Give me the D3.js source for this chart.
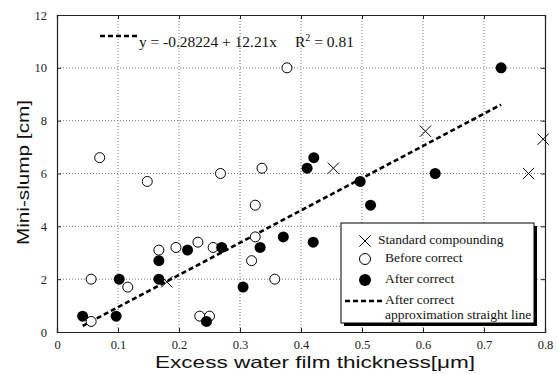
<!DOCTYPE html>
<html>
<head>
<meta charset="utf-8">
<script src="https://cdn.jsdelivr.net/npm/d3@7"></script>
<style>
  body { margin: 0; background: #fff; }
</style>
</head>
<body>
<div id="chart"></div>
<script>
// Data
var xTicks = [0, 0.1, 0.2, 0.3, 0.4, 0.5, 0.6, 0.7, 0.8];
var yTicks = [0, 2, 4, 6, 8, 10, 12];

var standardX = [0.18, 0.453, 0.604, 0.773, 0.797];
var standardY = [1.9, 6.2, 7.6, 6.0, 7.3];

var beforeX = [0.056, 0.056, 0.07, 0.116, 0.148, 0.167, 0.195, 0.231, 0.234, 0.25, 0.256, 0.268, 0.319, 0.325, 0.325, 0.336, 0.357, 0.377];
var beforeY = [2.0, 0.4, 6.6, 1.7, 5.7, 3.1, 3.2, 3.4, 0.6, 0.6, 3.2, 6.0, 2.7, 4.8, 3.6, 6.2, 2.0, 10.0];

var afterX = [0.042, 0.097, 0.102, 0.167, 0.167, 0.214, 0.245, 0.27, 0.305, 0.333, 0.371, 0.41, 0.421, 0.42, 0.497, 0.514, 0.62, 0.728];
var afterY = [0.6, 0.6, 2.0, 2.0, 2.7, 3.1, 0.4, 3.2, 1.7, 3.2, 3.6, 6.2, 6.6, 3.4, 5.7, 4.8, 6.0, 10.0];

var fitIntercept = -0.28224, fitSlope = 12.21, fitRange = [0.042, 0.728];

var serif = "'Liberation Serif', 'DejaVu Serif', 'Times New Roman', serif";
var sans = "'Liberation Sans', Arial, sans-serif";

var width = 558, height = 374;
var margin = { left: 57, right: 13, top: 15, bottom: 42 };
var chartWidth = width - margin.left - margin.right;
var chartHeight = height - margin.top - margin.bottom;

var svg = d3.select("#chart").append("svg")
    .attr("width", width)
    .attr("height", height);

var xScale = d3.scaleLinear().domain([0, 0.8]).range([0, chartWidth]);
var yScale = d3.scaleLinear().domain([0, 12]).range([chartHeight, 0]);

var chartG = svg.append("g")
    .attr("transform", "translate(" + margin.left + "," + margin.top + ")");

// dotted grid
chartG.append("g").selectAll("line")
    .data(xTicks.slice(1, -1)).enter().append("line")
    .attr("x1", function(d) { return xScale(d); })
    .attr("x2", function(d) { return xScale(d); })
    .attr("y1", 0).attr("y2", chartHeight)
    .attr("stroke", "#777").attr("stroke-width", 1).attr("stroke-dasharray", "1,2");
chartG.append("g").selectAll("line")
    .data(yTicks.slice(1, -1)).enter().append("line")
    .attr("y1", function(d) { return yScale(d); })
    .attr("y2", function(d) { return yScale(d); })
    .attr("x1", 0).attr("x2", chartWidth)
    .attr("stroke", "#777").attr("stroke-width", 1).attr("stroke-dasharray", "1,2");

// axes
var xAxis = d3.axisBottom(xScale).tickValues(xTicks).tickSize(-4).tickPadding(8)
    .tickFormat(function(d) { return d === 0 ? "0" : d3.format(".1f")(d); });
var yAxis = d3.axisLeft(yScale).tickValues(yTicks).tickSize(-4).tickPadding(10)
    .tickFormat(d3.format("d"));

chartG.append("g").attr("class", "axis x")
    .attr("transform", "translate(0," + chartHeight + ")").call(xAxis);
chartG.append("g").attr("class", "axis y").call(yAxis);
chartG.append("g")
    .call(d3.axisTop(xScale).tickValues(xTicks).tickSize(-4).tickFormat(""));
chartG.append("g").attr("transform", "translate(" + chartWidth + ",0)")
    .call(d3.axisRight(yScale).tickValues(yTicks).tickSize(-4).tickFormat(""));
chartG.selectAll(".domain").attr("stroke", "#222").attr("stroke-width", 1.2);
chartG.selectAll(".tick line").attr("stroke", "#222");
chartG.selectAll(".tick text")
    .attr("font-family", null).attr("font-size", null)
    .style("font-family", serif).style("font-size", "12.5px").attr("fill", "#222");

// fit line
chartG.append("line")
    .attr("x1", xScale(fitRange[0])).attr("y1", yScale(fitIntercept + fitSlope * fitRange[0]))
    .attr("x2", xScale(fitRange[1])).attr("y2", yScale(fitIntercept + fitSlope * fitRange[1]))
    .attr("stroke", "#000").attr("stroke-width", 2.6).attr("stroke-dasharray", "5,3");

function zip(xs, ys) { return xs.map(function(x, i) { return [x, ys[i]]; }); }

// open circles
chartG.append("g").selectAll("circle")
    .data(zip(beforeX, beforeY)).enter().append("circle")
    .attr("cx", function(d) { return xScale(d[0]); })
    .attr("cy", function(d) { return yScale(d[1]); })
    .attr("r", 5).attr("fill", "#fff").attr("stroke", "#000").attr("stroke-width", 1);

// filled circles
chartG.append("g").selectAll("circle")
    .data(zip(afterX, afterY)).enter().append("circle")
    .attr("cx", function(d) { return xScale(d[0]); })
    .attr("cy", function(d) { return yScale(d[1]); })
    .attr("r", 5.5).attr("fill", "#000");

// crosses
var cross = d3.symbol().type(d3.symbolX).size(70);
chartG.append("g").selectAll("path")
    .data(zip(standardX, standardY)).enter().append("path")
    .attr("d", cross)
    .attr("transform", function(d) { return "translate(" + xScale(d[0]) + "," + yScale(d[1]) + ") scale(1.1)"; })
    .attr("fill", "none").attr("stroke", "#000").attr("stroke-width", 0.9);

// equation
svg.append("line").attr("x1", 100).attr("x2", 138).attr("y1", 36).attr("y2", 36)
    .attr("stroke", "#000").attr("stroke-width", 2.6).attr("stroke-dasharray", "5,3");
svg.append("text").attr("x", 139).attr("y", 47)
    .attr("textLength", 138).attr("lengthAdjust", "spacingAndGlyphs")
    .style("font-family", serif).style("font-size", "15.5px").attr("fill", "#111")
    .text("y = -0.28224 + 12.21x");
var r2 = svg.append("text").attr("x", 295).attr("y", 47)
    .style("font-family", serif).style("font-size", "15.5px").attr("fill", "#111");
r2.append("tspan").text("R");
r2.append("tspan").attr("dy", -6).style("font-size", "10px").text("2");
r2.append("tspan").attr("dy", 6).text(" = 0.81");

// legend
var lg = svg.append("g").attr("transform", "translate(341,223)");
lg.append("rect").attr("x", 3).attr("y", 3).attr("width", 193).attr("height", 100).attr("fill", "#000");
lg.append("rect").attr("width", 193).attr("height", 100).attr("fill", "#fff").attr("stroke", "#000").attr("stroke-width", 1);
lg.append("path").attr("d", cross).attr("transform", "translate(24,18) scale(1.1)")
    .attr("fill", "none").attr("stroke", "#000").attr("stroke-width", 0.9);
lg.append("circle").attr("cx", 24).attr("cy", 36).attr("r", 5.5).attr("fill", "#fff").attr("stroke", "#000");
lg.append("circle").attr("cx", 24).attr("cy", 57).attr("r", 6).attr("fill", "#000");
lg.append("line").attr("x1", 4).attr("x2", 43).attr("y1", 78).attr("y2", 78)
    .attr("stroke", "#000").attr("stroke-width", 2.6).attr("stroke-dasharray", "5,3");
var legendTexts = [
    { x: 37, y: 21, t: "Standard compounding" },
    { x: 44, y: 39, t: "Before correct" },
    { x: 44, y: 60, t: "After correct" },
    { x: 44, y: 81, t: "After correct" },
    { x: 44, y: 96, t: "approximation straight line" }
];
lg.selectAll("text").data(legendTexts).enter().append("text")
    .attr("x", function(d) { return d.x; }).attr("y", function(d) { return d.y; })
    .style("font-family", serif).style("font-size", "13.5px").attr("fill", "#111")
    .text(function(d) { return d.t; });

// axis titles (horizontally stretched, as in the original)
svg.append("text").attr("x", 155).attr("y", 368)
    .attr("textLength", 320).attr("lengthAdjust", "spacingAndGlyphs")
    .style("font-family", sans).style("font-size", "16.5px").attr("fill", "#111")
    .text("Excess water film thickness[\u03bcm]");
svg.append("text").attr("text-anchor", "middle")
    .attr("textLength", 145).attr("lengthAdjust", "spacingAndGlyphs")
    .attr("transform", "translate(28.5,172.5) rotate(-90)")
    .style("font-family", sans).style("font-size", "16.5px").attr("fill", "#111")
    .text("Mini-slump [cm]");
</script>
</body>
</html>
